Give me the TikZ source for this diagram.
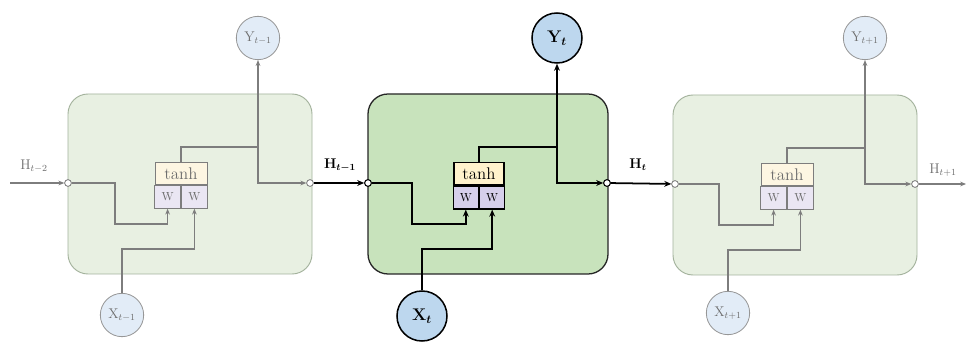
\documentclass[tikz,border=0pt]{standalone}
\usepackage{amsmath}
\usetikzlibrary{arrows.meta}
\definecolor{sideFill}{HTML}{E8F0E2}
\definecolor{sideBorder}{HTML}{A3B29C}
\definecolor{midFill}{HTML}{C8E3BC}
\definecolor{sideLine}{HTML}{7D7D7D}
\definecolor{sideCirc}{HTML}{E2ECF7}
\definecolor{midCirc}{HTML}{BDD7EE}
\definecolor{sideTanh}{HTML}{FDF6E2}
\definecolor{midTanh}{HTML}{FFF2CC}
\definecolor{sideW}{HTML}{EAE6F3}
\definecolor{midW}{HTML}{D6CFEB}
\definecolor{sideText}{HTML}{6E6E6E}
\tikzset{
  cellside/.style={draw=sideBorder,fill=sideFill,line width=0.8pt,rounded corners=0.6cm},
  cellmid/.style={draw=black!85,fill=midFill,line width=1.1pt,rounded corners=0.6cm},
  portside/.style={circle,draw=sideLine,fill=white,inner sep=0pt,minimum size=0.2cm,line width=0.6pt},
  portmid/.style={circle,draw=black,fill=white,inner sep=0pt,minimum size=0.2cm,line width=0.8pt},
  ioside/.style={circle,draw=sideLine!80,fill=sideCirc,minimum size=1.3cm,inner sep=0pt,line width=0.7pt,text=sideText,font=\large},
  iomid/.style={circle,draw=black,fill=midCirc,minimum size=1.5cm,inner sep=0pt,line width=1.3pt,font=\Large},
  tanhside/.style={draw=sideLine,fill=sideTanh,minimum width=1.56cm,minimum height=0.66cm,inner sep=0pt,line width=0.7pt,text=sideText,font=\Large},
  tanhmid/.style={draw=black,fill=midTanh,minimum width=1.5cm,minimum height=0.66cm,inner sep=0pt,line width=1.2pt,font=\Large},
  wside/.style={draw=sideLine,fill=sideW,minimum width=0.78cm,minimum height=0.69cm,inner sep=0pt,line width=0.7pt,text=sideText,font=\normalsize},
  wmid/.style={draw=black,fill=midW,minimum width=0.75cm,minimum height=0.69cm,inner sep=0pt,line width=1.2pt,font=\normalsize},
  wireside/.style={draw=sideLine,line width=1pt},
  wiremid/.style={draw=black,line width=1.5pt},
  arrside/.style={wireside,-{Stealth[length=5pt,width=4pt]}},
  arrmid/.style={wiremid,-{Stealth[length=6pt,width=5pt]}},
  lblside/.style={text=sideText,font=\large},
  lblmid/.style={text=black,font=\large}
}
\begin{document}
\begin{tikzpicture}[x=0.03cm,y=-0.03cm]
\useasboundingbox (0,0) rectangle (968,343);
\fill[white] (0,0) rectangle (968,343);

% ---------------- left cell ----------------
\draw[cellside] (68,94) rectangle (312,274);
\node[tanhside] (tL) at (181,173.5) {tanh};
\node[wside,anchor=north east] (waL) at (tL.south) {W};
\node[wside,anchor=north west] (wbL) at (tL.south) {W};
\node[ioside] (yL) at (258,38) {$\mathrm{Y}_{t-1}$};
\node[ioside] (xL) at (122,315) {$\mathrm{X}_{t-1}$};
\coordinate (hinL) at (10,183);
\coordinate (aL1) at (115,183);
\coordinate (aL2) at (115,224);
\coordinate (bL1) at (122,249);
\coordinate (cL1) at (tL.north |- 0,147);
\coordinate (jL) at (258,147);
\coordinate (dL) at (258,183);
\node[lblside] (hlL) at (34,166) {$\mathrm{H}_{t-2}$};

% ---------------- middle cell ----------------
\draw[cellmid] (368,94) rectangle (608,274);
\node[tanhmid] (tM) at (479,173.5) {tanh};
\node[wmid,anchor=north east] (waM) at (tM.south) {W};
\node[wmid,anchor=north west] (wbM) at (tM.south) {W};
\node[iomid] (yM) at (557,38) {$\mathbf{Y}_{\boldsymbol{t}}$};
\node[iomid] (xM) at (422,316) {$\mathbf{X}_{\boldsymbol{t}}$};
\coordinate (aM1) at (412,183);
\coordinate (aM2) at (412,224);
\coordinate (bM1) at (422,249);
\coordinate (jM) at (557,147);
\coordinate (dM) at (557,183);
\node[lblmid] (hlM1) at (340,165) {$\mathbf{H}_{\boldsymbol{t-1}}$};
\node[lblmid] (hlM2) at (638,165) {$\mathbf{H}_{\boldsymbol{t}}$};

% ---------------- right cell ----------------
\draw[cellside] (673,95) rectangle (917,275);
\node[tanhside] (tR) at (787,174.5) {tanh};
\node[wside,anchor=north east] (waR) at (tR.south) {W};
\node[wside,anchor=north west] (wbR) at (tR.south) {W};
\node[ioside] (yR) at (865,38) {$\mathrm{Y}_{t+1}$};
\node[ioside] (xR) at (728,313) {$\mathrm{X}_{t+1}$};
\coordinate (aR1) at (719,184);
\coordinate (aR2) at (719,225);
\coordinate (bR1) at (728,250);
\coordinate (jR) at (865,148);
\coordinate (dR) at (865,184);
\coordinate (houtR) at (966,184);
\node[lblside] (hlR) at (943,170) {$\mathrm{H}_{t+1}$};

% ports
\node[portside] (pinL) at (68,183) {};
\node[portside] (poutL) at (310,183) {};
\node[portmid] (pinM) at (368,183) {};
\node[portmid] (poutM) at (607,183) {};
\node[portside] (pinR) at (675,184) {};
\node[portside] (poutR) at (915,184) {};

% ---------------- wires left ----------------
\draw[arrside] (hinL) -- (pinL);
\draw[arrside] (pinL) -- (aL1) -- (aL2) -| (waL.south);
\draw[arrside] (xL) -- (bL1) -| (wbL.south);
\draw[wireside] (tL.north) -- (tL.north |- jL) -- (jL);
\draw[arrside] (jL) -- (yL);
\draw[arrside] (jL) -- (dL) -- (poutL);

% ---------------- wires middle ----------------
\draw[arrmid] (poutL) -- (pinM);
\draw[arrmid] (pinM) -- (aM1) -- (aM2) -| (waM.south);
\draw[arrmid] (xM) -- (bM1) -| (wbM.south);
\draw[wiremid] (tM.north) -- (tM.north |- jM) -- (jM);
\draw[arrmid] (jM) -- (yM);
\draw[arrmid] (jM) -- (dM) -- (poutM);
\draw[arrmid] (poutM) -- (pinR);

% ---------------- wires right ----------------
\draw[arrside] (pinR) -- (aR1) -- (aR2) -| (waR.south);
\draw[arrside] (xR) -- (bR1) -| (wbR.south);
\draw[wireside] (tR.north) -- (tR.north |- jR) -- (jR);
\draw[arrside] (jR) -- (yR);
\draw[arrside] (jR) -- (dR) -- (poutR);
\draw[arrside] (poutR) -- (houtR);

% redraw ports on top
\node[portside] at (pinL) {};
\node[portside] at (poutL) {};
\node[portmid] at (pinM) {};
\node[portmid] at (poutM) {};
\node[portside] at (pinR) {};
\node[portside] at (poutR) {};
\end{tikzpicture}
\end{document}
